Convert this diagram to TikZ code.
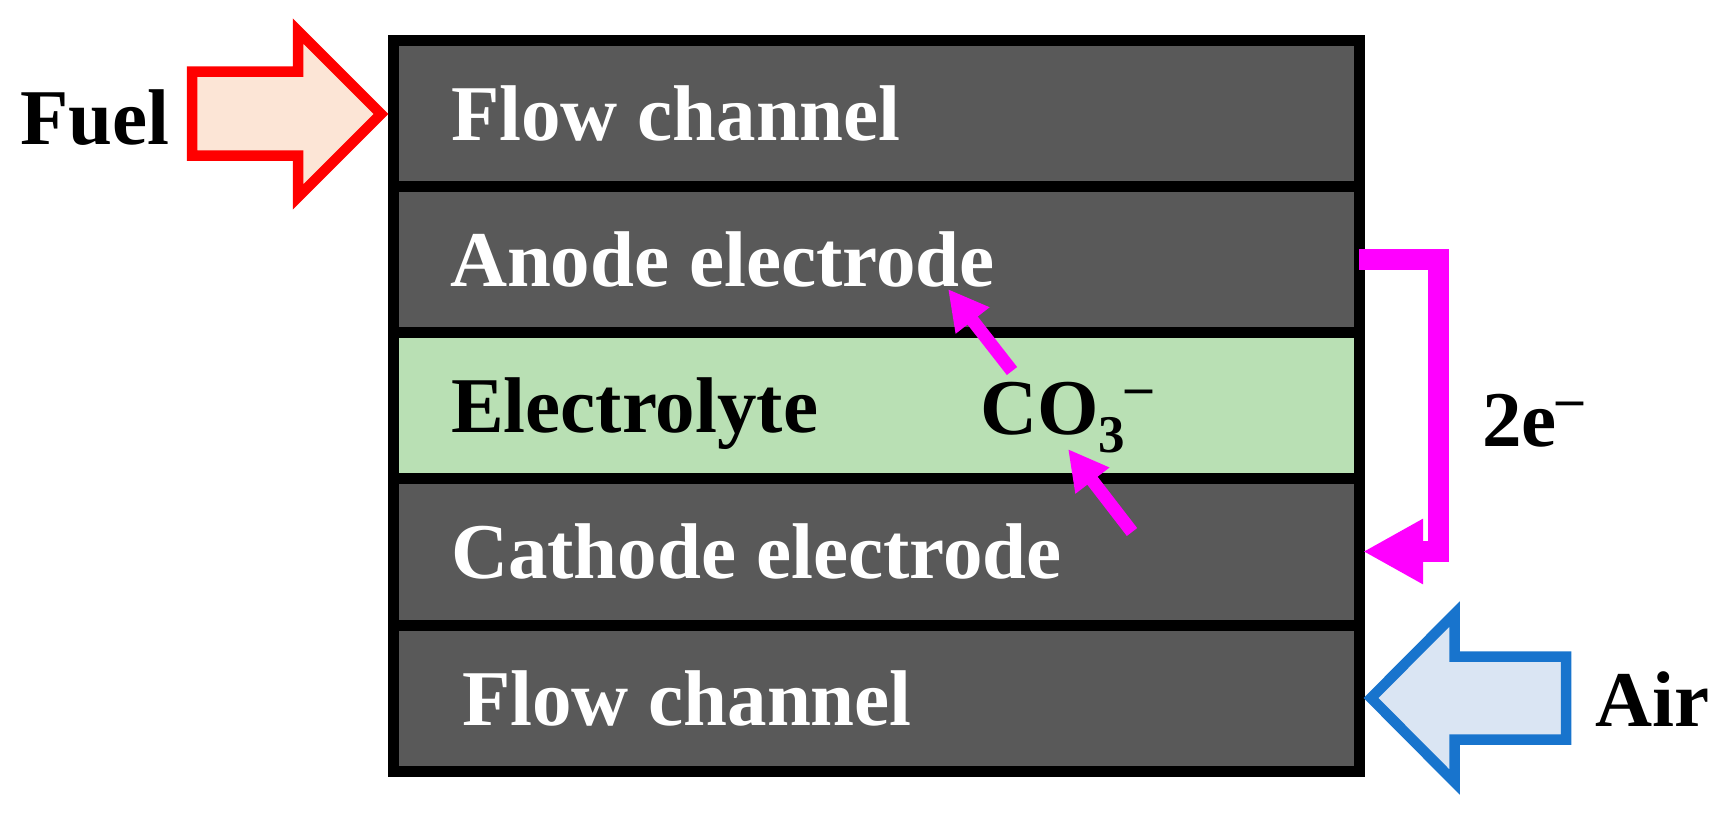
\documentclass[tikz,border=0pt]{standalone}
\usepackage{fontspec}
\setmainfont{Liberation Serif}
\usetikzlibrary{arrows.meta}
\definecolor{layergray}{RGB}{89,89,89}
\definecolor{elgreen}{RGB}{185,224,180}
\definecolor{fuelfill}{RGB}{252,229,214}
\definecolor{airfill}{RGB}{218,229,243}
\definecolor{airline}{RGB}{24,116,205}
\definecolor{emag}{RGB}{255,0,255}
\begin{document}
\begin{tikzpicture}[x=1pt,y=-1pt,
  layer/.style={draw=black,line width=11pt,minimum width=965.5pt,inner sep=0pt,outer sep=0pt},
  lbl/.style={anchor=base west,inner sep=0pt,outer sep=0pt,font=\fontsize{79}{95}\selectfont\bfseries},
  ion/.style={draw=emag,line width=13pt,-{Triangle[length=40pt,width=40pt]}},
  blockarrow/.style={line width=10.5pt,miter limit=10}]
\useasboundingbox (0,0) rectangle (1724,814);
% layers
\node[layer,fill=layergray,minimum height=146pt] (flowA) at (876.25,113.5) {};
\node[layer,fill=layergray,minimum height=146pt] (anode) at (876.25,259.5) {};
\node[layer,fill=elgreen,minimum height=145.5pt] (elec) at (876.25,405.25) {};
\node[layer,fill=layergray,minimum height=147.5pt] (cath) at (876.25,551.75) {};
\node[layer,fill=layergray,minimum height=146pt] (flowB) at (876.25,698.5) {};
% layer labels
\node[lbl,text=white] (tFlowA) at (451,140) {Flow channel};
\node[lbl,text=white] (tAnode) at (450,286) {Anode electrode};
\node[lbl,text=black] (tElec) at (451,432) {Electrolyte};
\node[lbl,text=white] (tCath) at (451,578) {Cathode electrode};
\node[lbl,text=white] (tFlowB) at (462,725) {Flow channel};
\node[lbl,text=black] (co3) at (980,434) {CO\raisebox{-18pt}{\fontsize{53}{53}\selectfont 3}\raisebox{30pt}{\fontsize{54}{54}\selectfont –}};
% fuel arrow
\draw[blockarrow,draw=red,fill=fuelfill] (192,71.5) -- (298,71.5) -- (298,31) -- (381,114) -- (298,197) -- (298,155.5) -- (192,155.5) -- cycle;
\node[lbl] (fuel) at (20,144) {Fuel};
% air arrow
\draw[blockarrow,draw=airline,fill=airfill] (1371,698) -- (1454.5,614) -- (1454.5,656.5) -- (1566,656.5) -- (1566,739.5) -- (1454.5,739.5) -- (1454.5,782) -- cycle;
\node[lbl] (air) at (1595,726) {Air};
% electron path
\coordinate (eStart) at (1359,259.5);
\coordinate (eC1) at (1438.5,259.5);
\coordinate (eC2) at (1438.5,551.5);
\coordinate (eEnd) at (1363,551.5);
\draw[draw=emag,line width=21pt,-{Triangle[length=60pt,width=61pt]}] (eStart) -- (eC1) -- (eC2) -- (eEnd);
\node[lbl] (el) at (1482,446) {2e\raisebox{30pt}{\fontsize{54}{54}\selectfont –}};
% ion arrows
\coordinate (i1s) at (1012,371);
\coordinate (i1e) at (948,289);
\coordinate (i2s) at (1132,532);
\coordinate (i2e) at (1068,449);
\draw[ion] (i1s) -- (i1e);
\draw[ion] (i2s) -- (i2e);
\end{tikzpicture}
\end{document}
